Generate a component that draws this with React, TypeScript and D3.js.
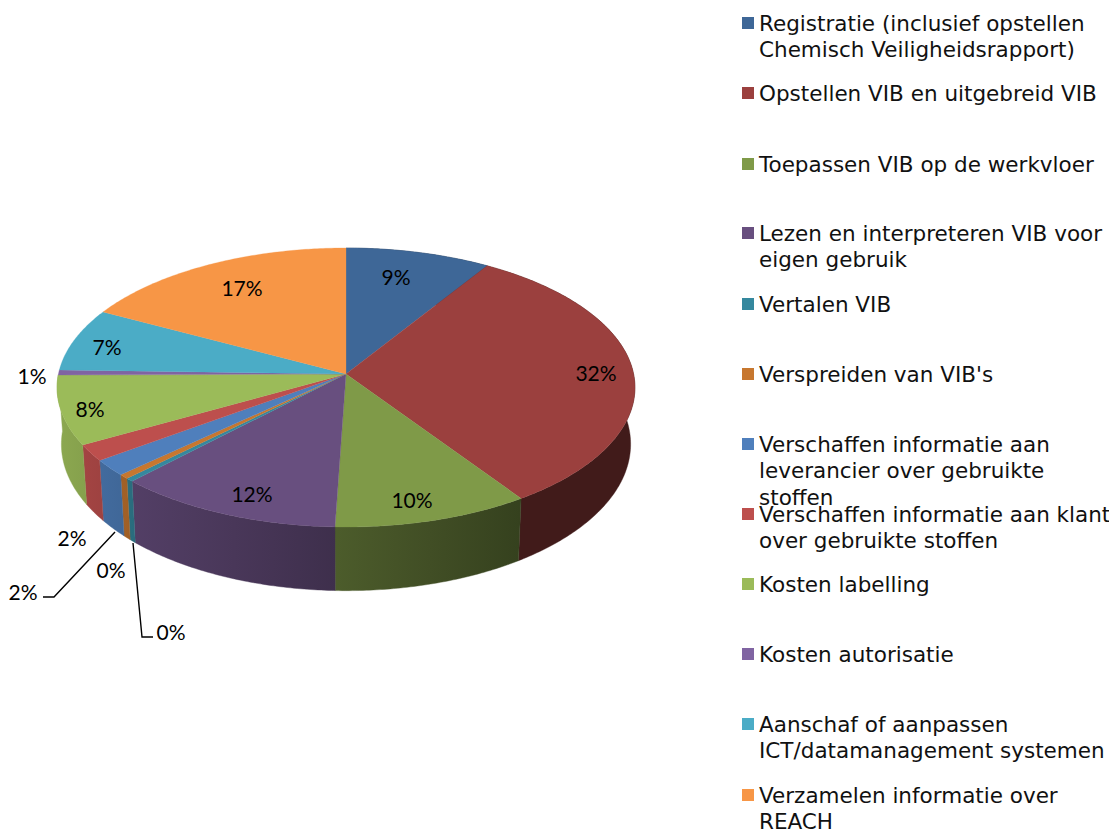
import React from "react";
import * as d3 from "d3";

const categories = [
  ["Registratie (inclusief opstellen", "Chemisch Veiligheidsrapport)"],
  ["Opstellen VIB en uitgebreid VIB"],
  ["Toepassen VIB op de werkvloer"],
  ["Lezen en interpreteren VIB voor", "eigen gebruik"],
  ["Vertalen VIB"],
  ["Verspreiden van VIB's"],
  ["Verschaffen informatie aan", "leverancier over gebruikte", "stoffen"],
  ["Verschaffen informatie aan klant", "over gebruikte stoffen"],
  ["Kosten labelling"],
  ["Kosten autorisatie"],
  ["Aanschaf of aanpassen", "ICT/datamanagement systemen"],
  ["Verzamelen informatie over", "REACH"],
];
const values = [8.9, 31.6, 10.0, 11.6, 0.4, 0.5, 1.9, 1.9, 8.0, 0.6, 7.3, 17.2];
const percentLabels = ["9%", "32%", "10%", "12%", "0%", "0%", "2%", "2%", "8%", "1%", "7%", "17%"];
const colors = ["#3e6797", "#9b403e", "#7f9a48", "#684f7f", "#35889e", "#c7772f", "#4f7fbc", "#bd4f4d", "#9bbb59", "#8064a2", "#4bacc6", "#f79646"];

// layout (pixels), not data
const labelXY: [number, number][] = [
  [396, 276.5], [596, 372], [412, 499], [252, 493], [171, 631], [111, 569],
  [23, 591], [72, 537], [90, 408], [32, 375], [107, 346.5], [242, 287],
];
const legendY = [23.5, 93.5, 164.5, 233.5, 304.5, 374.5, 444.5, 514.5, 584.5, 654.5, 724.5, 795.5];
const LEGEND_LINE = 26.5;
const leaderLines: [number, number][][] = [
  [[115, 532], [54, 597], [43, 597]],
  [[133, 543], [142, 637], [153, 637]],
];

const cx = 346, cy = 374;
const A = 287.6, B = 138.2, K = 0.0968;
const WALL_SX = 0.985, WALL_SY = 1.05, WALL_D = 56;

function top(a: number): [number, number] {
  const u = Math.sin(a), v = -Math.cos(a);
  const w = 1 - K * v;
  return [cx + (A * u) / w, cy + (B * v) / w];
}
function bottom(a: number): [number, number] {
  const [x, y] = top(a);
  return [cx + (x - cx) * WALL_SX, cy + (y - cy) * WALL_SY + WALL_D];
}

const shade = d3.scaleLinear().domain([57, 130, 337, 520, 635]).range([0.9, 0.8, 0.6, 0.42, 0.42]);
function darken(c: string, f: number) {
  const r = d3.rgb(c);
  return d3.rgb(r.r * f, r.g * f, r.b * f).formatHex();
}
const gradX = [57, 130, 234, 337, 430, 520, 635];

const arcs = d3.pie<number>().sort(null).value((d) => d).startAngle(0).endAngle(2 * Math.PI)(values);
const line = d3.line();

function samples(a0: number, a1: number) {
  const n = Math.max(2, Math.ceil((a1 - a0) * 90));
  return d3.range(n + 1).map((i) => a0 + ((a1 - a0) * i) / n);
}

export default function App() {
  return (
    <svg width={1109} height={830} style={{ position: "absolute", left: 0, top: 0, display: "block" }}>
      <defs>
        {colors.map((c, i) => (
          <linearGradient key={i} id={`w${i}`} gradientUnits="userSpaceOnUse" x1={gradX[0]} x2={gradX[gradX.length - 1]} y1={0} y2={0}>
            {gradX.map((x) => (
              <stop key={x} offset={(x - gradX[0]) / (gradX[gradX.length - 1] - gradX[0])} stopColor={darken(c, shade(x))} />
            ))}
          </linearGradient>
        ))}
      </defs>
      <g>
        {arcs.map((d, i) => {
          if (d.startAngle > 1.5 * Math.PI - 0.02) return null;
          const s = samples(d.startAngle, d.endAngle);
          const pts = [...s.map(top), ...s.slice().reverse().map(bottom)];
          return <path key={i} d={line(pts) + "Z"} fill={`url(#w${i})`} stroke={`url(#w${i})`} strokeWidth={0.4} />;
        })}
        {arcs.map((d, i) => {
          const s = samples(d.startAngle, d.endAngle);
          const pts: [number, number][] = [[cx, cy], ...s.map(top)];
          return <path key={i} d={line(pts) + "Z"} fill={colors[i]} stroke={colors[i]} strokeWidth={0.3} />;
        })}
      </g>
      {leaderLines.map((l, i) => (
        <path key={i} d={line(l) as string} fill="none" stroke="#000" strokeWidth={1.4} />
      ))}
      <g fontFamily="Lato, 'Open Sans', sans-serif" fontSize={21} fill="#000" textAnchor="middle" dominantBaseline="central">
        {percentLabels.map((t, i) => (
          <text key={i} x={labelXY[i][0]} y={labelXY[i][1]}>{t}</text>
        ))}
      </g>
      <g fontFamily="'DejaVu Sans', Verdana, sans-serif" fontSize={21.5} fill="#111">
        {categories.map((lines, i) => (
          <g key={i}>
            <rect x={742} y={legendY[i] - 6.5} width={12} height={12} fill={colors[i]} />
            {lines.map((t, j) => (
              <text key={j} x={759} y={legendY[i] + 7 + j * LEGEND_LINE}>{t}</text>
            ))}
          </g>
        ))}
      </g>
    </svg>
  );
}
